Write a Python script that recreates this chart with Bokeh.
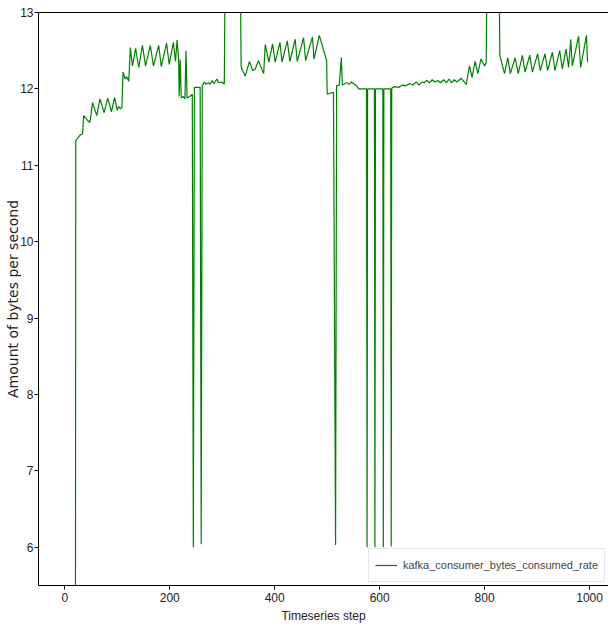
from bokeh.plotting import figure
from bokeh.models import Range1d, FixedTicker, LinearAxis, Legend
from bokeh.embed import file_html
from bokeh.resources import INLINE

series_name = "kafka_consumer_bytes_consumed_rate"
x_ticks = [0, 200, 400, 600, 800, 1000]
y_ticks = [6, 7, 8, 9, 10, 11, 12, 13]

steps = [
    0, 20, 21, 26, 30, 34, 36, 42, 48, 53, 61, 67, 75, 82, 89, 95, 100, 103, 106, 109,
    111, 115, 118, 122, 125, 129, 135, 141, 148, 154, 163, 169, 179, 184, 194, 199, 207, 211, 214, 217,
    218, 220, 222, 226, 229, 231, 233, 238, 243, 245, 247, 258, 260, 262, 266, 269, 274, 277, 281, 284,
    290, 293, 299, 304, 306, 334, 336, 338, 344, 352, 358, 363, 369, 379, 382, 389, 396, 401, 410, 414,
    424, 429, 439, 443, 455, 459, 472, 475, 485, 496, 499, 500, 508, 512, 516, 518, 523, 527, 529, 537,
    542, 546, 550, 556, 560, 575, 576, 577, 590, 591, 592, 606, 607, 608, 621, 622, 623, 629, 636, 644,
    650, 657, 663, 670, 675, 680, 685, 690, 695, 700, 705, 711, 716, 722, 727, 732, 737, 742, 747, 752,
    755, 765, 771, 776, 782, 787, 793, 800, 803, 805, 827, 829, 834, 838, 844, 849, 858, 864, 872, 877,
    886, 891, 901, 906, 915, 920, 929, 934, 943, 948, 955, 960, 964, 967, 979, 983, 994, 996,
]
values = [
    0.0, 0.0, 11.32, 11.37, 11.40, 11.41, 11.65, 11.60, 11.56, 11.82, 11.65, 11.87, 11.69, 11.88, 11.70, 11.89, 11.72, 11.77, 11.74, 11.76,
    12.22, 12.13, 12.16, 12.10, 12.54, 12.30, 12.53, 12.28, 12.57, 12.30, 12.57, 12.30, 12.57, 12.29, 12.60, 12.32, 12.61, 12.36, 12.64, 12.40,
    11.90, 12.38, 11.88, 11.90, 11.87, 12.50, 11.88, 11.90, 11.93, 6.00, 12.02, 12.02, 6.04, 12.04, 12.09, 12.06, 12.08, 12.06, 12.11, 12.07,
    12.13, 12.08, 12.09, 12.06, 14.0, 14.0, 12.30, 12.25, 12.17, 12.36, 12.24, 12.26, 12.37, 12.20, 12.58, 12.35, 12.59, 12.35, 12.61, 12.35,
    12.63, 12.36, 12.65, 12.36, 12.67, 12.37, 12.68, 12.39, 12.70, 12.44, 12.37, 11.93, 11.95, 11.95, 6.03, 12.04, 12.05, 12.41, 12.05, 12.08,
    12.06, 12.09, 12.07, 12.04, 12.00, 12.00, 6.00, 12.00, 12.00, 6.00, 12.00, 12.00, 6.00, 12.00, 12.00, 6.01, 12.01, 12.03, 12.02, 12.05,
    12.04, 12.07, 12.05, 12.09, 12.05, 12.09, 12.08, 12.11, 12.08, 12.12, 12.09, 12.11, 12.08, 12.12, 12.08, 12.13, 12.08, 12.12, 12.09, 12.12,
    12.14, 12.06, 12.30, 12.15, 12.36, 12.20, 12.39, 12.30, 12.35, 14.0, 14.0, 12.44, 12.30, 12.20, 12.41, 12.20, 12.41, 12.20, 12.44, 12.22,
    12.44, 12.22, 12.46, 12.24, 12.46, 12.24, 12.48, 12.24, 12.50, 12.26, 12.52, 12.28, 12.65, 12.30, 12.69, 12.28, 12.70, 12.35,
]

TICK_FONT = "Liberation Sans"

p = figure(width=608, height=626, output_backend="svg", toolbar_location=None,
           x_range=Range1d(-50, 1036), y_range=Range1d(5.5, 13),
           min_border_left=38, min_border_right=0, min_border_top=12, min_border_bottom=41)
p.outline_line_color = None
p.background_fill_color = "white"
p.border_fill_color = "white"
p.xgrid.visible = False
p.ygrid.visible = False

r = p.line(steps, values, line_color="green", line_width=1.2)

for ax in (p.xaxis[0], p.yaxis[0]):
    ax.axis_line_color = "black"
    ax.major_tick_line_color = "black"
    ax.major_tick_out = 4
    ax.major_tick_in = 0
    ax.minor_tick_line_color = None
    ax.major_label_text_font = TICK_FONT
    ax.major_label_text_font_size = "12px"
    ax.major_label_text_color = "#222222"
    ax.axis_label_text_font_style = "normal"
    ax.axis_label_text_color = "#222222"

p.xaxis[0].ticker = FixedTicker(ticks=x_ticks)
p.yaxis[0].ticker = FixedTicker(ticks=y_ticks)
p.xaxis[0].axis_label = "Timeseries step"
p.xaxis[0].axis_label_text_font = TICK_FONT
p.xaxis[0].axis_label_text_font_size = "12px"
p.xaxis[0].axis_label_standoff = 4
p.xaxis[0].major_label_standoff = 3
p.yaxis[0].major_label_standoff = 1
p.yaxis[0].axis_label = "Amount of bytes per second"
p.yaxis[0].axis_label_text_font = "DejaVu Sans"
p.yaxis[0].axis_label_text_font_size = "14px"
p.yaxis[0].axis_label_standoff = -4

top = LinearAxis(axis_line_color="black", major_tick_line_color=None, minor_tick_line_color=None,
                 major_label_text_font_size="0px", major_label_text_color=None)
p.add_layout(top, "above")

legend = Legend(items=[(series_name, [r])], location="bottom_right")
legend.label_text_font = TICK_FONT
legend.label_text_font_size = "11px"
legend.label_standoff = 6
legend.border_line_color = "#cccccc"
legend.background_fill_alpha = 0.85
legend.glyph_width = 22
legend.padding = 6
legend.margin = 3
p.add_layout(legend)

open("out.html", "w").write(file_html(p, INLINE))
